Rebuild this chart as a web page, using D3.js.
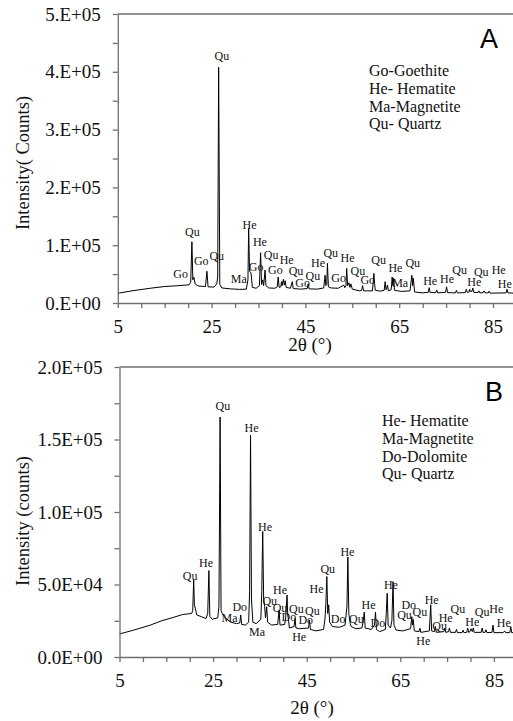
<!DOCTYPE html>
<html>
<head>
<meta charset="utf-8">
<script src="https://cdn.jsdelivr.net/npm/d3@7"></script>
<style>
  html, body { margin: 0; padding: 0; background: #fff; }
  svg { display: block; }
  svg text { font-family: "Liberation Serif", "Times New Roman", Times, serif; }
  svg text.letter { font-family: "Liberation Sans", Arial, sans-serif; }
</style>
</head>
<body>
<svg id="chart" width="513" height="721"></svg>
<script>
// ---------------- DATA ----------------
// Panel A: XRD pattern [2theta (deg), intensity (counts)]
const patternA = [
  [5,16800],[8,21000],[11.9,25500],[15,28500],[18,30000],[20.2,31500],[20.55,36000],[20.8,106000],
  [21.0,40000],[21.2,45000],[21.5,33000],[22.1,29500],[23.7,28500],[24.0,55000],[24.25,28000],
  [25.5,27500],[26.1,33000],[26.3,45000],[26.5,408000],[26.75,32000],[27.2,26000],[29,24500],
  [31,23500],[32.4,24000],[32.75,40000],[32.9,129000],[33.1,55000],[33.4,52000],[33.7,27000],
  [34.5,25500],[35.2,30000],[35.45,87000],[35.65,32000],[35.9,40000],[36.1,30000],[36.4,57000],
  [36.6,30000],[37.2,26000],[38.5,25500],[39.0,28000],[39.2,45000],[39.4,27000],[39.75,28000],
  [39.9,37000],[40.05,30000],[40.3,41000],[40.5,31000],[40.7,38500],[40.9,27000],[41.8,25500],
  [42.2,37000],[42.4,25000],[44,24000],[45.4,25000],[45.6,33000],[45.8,24500],[47.5,24000],
  [48.9,26000],[49.2,48000],[49.35,30000],[49.55,32000],[49.7,68700],[49.9,28000],[50.5,26000],
  [52,25500],[53.2,31000],[53.4,26500],[53.65,30000],[53.8,60000],[54.0,30000],[54.3,35000],
  [54.5,27000],[54.7,33000],[55.0,24000],[56.5,21000],[57.0,22000],[57.2,30000],[57.4,21000],
  [59.3,21000],[59.6,51000],[59.75,34000],[59.9,22000],[61.0,20500],[61.8,22000],[62.0,37000],
  [62.2,23000],[62.5,31000],[62.7,21000],[63.3,23000],[63.5,45000],[63.65,30000],[63.8,43000],
  [64.0,22000],[65.5,20000],[67.3,21000],[67.7,48000],[67.85,30000],[68.0,43000],[68.3,19000],
  [70,17500],[71.2,18500],[71.4,26500],[71.6,18000],[72.8,18000],[73.0,22500],[73.2,17500],
  [74.9,18500],[75.1,28000],[75.3,18000],[77.0,17500],[77.2,22000],[77.4,17500],[79.1,18000],
  [79.3,23700],[79.5,18500],[79.9,19000],[80.0,24000],[80.2,20000],[80.5,20000],[80.7,26000],
  [80.9,18500],[81.8,18000],[82.0,21000],[82.2,17500],[82.9,18000],[83.1,21000],[83.3,17500],
  [84.0,17500],[84.2,20500],[84.4,17000],[87.8,17500],[88.0,23700],[88.2,17500],[89.5,17000]
];
// Panel A peak labels [text, 2theta, intensity]
const labelsA = [
  ["Qu",27.2,427000],["Qu",20.9,122000],["Go",18.4,50000],["Go",22.8,72700],["Qu",26.1,81000],
  ["Ma",30.8,41000],["He",33.1,135000],["He",35.3,105000],["Go",34.5,61800],["Qu",37.7,83000],
  ["He",41.0,74400],["Go",38.6,57000],["Qu",43.0,55400],["Go",44.4,35000],["Qu",46.6,47000],
  ["He",47.7,69700],["Qu",50.4,87000],["He",54.0,77000],["Go",52.1,42700],["Qu",56.2,55000],
  ["Go",58.3,40000],["Qu",60.6,74000],["He",64.2,60000],["Ma",65.2,35000],["Qu",67.9,68700],
  ["He",71.6,38000],["He",75.2,41000],["Qu",77.9,57000],["He",81.0,35800],["Qu",82.5,53000],
  ["He",86.2,57000],["He",87.5,33000]
];
const legendA = ["Go-Goethite","He- Hematite","Ma-Magnetite","Qu- Quartz"];

// Panel B: XRD pattern [2theta (deg), intensity (counts)]
const patternB = [
  [5,15900],[8,18500],[11.6,22000],[14,25000],[16.6,27400],[18.5,29300],[20.4,30000],[20.65,32000],
  [20.85,53000],[21.0,36000],[21.2,33600],[21.5,29000],[22.5,27800],[23.5,26500],[23.85,30000],
  [24.1,59600],[24.3,28000],[24.8,26000],[26.0,27000],[26.25,35000],[26.5,165500],[26.7,32000],
  [27.0,29700],[27.6,27000],[28.8,24000],[30.0,23000],[30.7,23500],[30.9,29000],[31.1,22500],
  [31.9,22000],[32.6,24000],[32.8,45000],[33.0,153000],[33.2,40000],[33.5,24000],[34.2,23000],
  [35.2,26000],[35.4,45000],[35.6,86500],[35.8,40000],[36.0,35000],[36.2,27000],[36.45,34700],
  [36.65,24000],[37.5,22000],[38.8,22500],[39.1,32500],[39.3,22000],[40.3,22500],[40.5,27000],
  [40.8,42800],[40.95,29000],[41.1,26000],[41.3,20000],[42.3,21000],[42.5,26700],[42.7,20000],
  [43.5,19500],[45.4,20000],[45.6,25500],[45.8,19000],[47,18000],[48.6,19000],[48.9,26000],
  [49.1,37000],[49.3,55500],[49.5,30000],[49.7,36000],[49.9,24000],[50.5,21000],[52,20500],
  [53.2,22000],[53.6,35000],[53.8,69000],[54.0,30000],[54.3,23000],[54.5,21000],[55.5,19500],
  [56.8,20000],[57.1,25000],[57.3,31000],[57.5,20000],[58.8,19000],[59.5,22000],[59.7,31000],
  [59.9,19000],[60.6,17500],[61.8,19000],[62.0,30000],[62.2,44000],[62.4,22000],[62.9,20000],
  [63.2,25000],[63.45,52000],[63.65,22000],[64.1,18600],[65.5,18000],[67.2,19500],[67.45,27800],
  [67.6,22000],[67.75,26000],[68.0,18000],[69.0,17500],[69.2,19800],[69.4,17000],[71.2,18000],
  [71.5,36000],[71.7,18000],[72.3,17500],[72.5,21000],[72.7,17000],[74.3,17500],[74.5,20000],
  [74.7,17000],[75.3,17500],[75.5,20000],[75.7,17000],[76.8,17000],[77.0,19000],[77.2,16800],
  [78.2,16800],[78.4,18500],[78.6,16800],[79.2,17000],[79.4,20000],[79.6,17000],[79.9,17500],
  [80.1,19500],[80.4,17500],[80.6,20000],[80.8,17000],[82.3,17000],[82.5,20000],[82.7,16800],
  [83.1,17000],[83.3,18800],[83.5,16800],[84.6,17000],[84.8,22000],[85.0,16800],[87.0,16800],
  [87.3,18000],[87.5,16800],[88.4,16800],[88.6,21000],[88.8,16800],[89.5,16800]
];
const labelsB = [
  ["Qu",20.1,56000],["He",23.5,65000],["Qu",27.1,172900],["He",33.2,158000],["He",36.1,90000],
  ["Ma",28.5,27000],["Do",30.7,34700],["Ma",34.4,17500],["Qu",37.1,38900],["Qu",39.3,33600],
  ["He",39.3,46000],["Do",41.2,27400],["Qu",42.8,33000],["Qu",46.2,32000],["Do",44.8,25500],
  ["He",43.4,13600],["He",47.1,46800],["Qu",49.5,61000],["Do",51.7,26000],["He",53.7,72700],
  ["Qu",55.6,26000],["He",58.2,36000],["Do",60.2,23700],["He",63.0,49700],["Qu",65.9,29000],
  ["Do",66.8,36000],["Qu",69.2,31300],["He",69.9,11000],["He",71.7,39400],["Qu",73.4,21400],
  ["He",74.7,27000],["Qu",77.3,33000],["He",80.4,24400],["Qu",82.5,31300],["He",85.5,33000],
  ["He",87.1,23700]
];
const legendB = ["He- Hematite","Ma-Magnetite","Do-Dolomite","Qu- Quartz"];

// Axes
const xDomain = [5, 90];
const xTickMarks = [5,10,15,20,25,30,35,40,45,50,55,60,65,70,75,80,85];
const xTickLabels = [5,25,45,65,85];
const yTicksA = [0,100000,200000,300000,400000,500000];
const yTickLabelsA = ["0.E+00","1.E+05","2.E+05","3.E+05","4.E+05","5.E+05"];
const yMinorA = [50000,150000,250000,350000,450000];
const yTicksB = [0,50000,100000,150000,200000];
const yTickLabelsB = ["0.0E+00","5.0E+04","1.0E+05","1.5E+05","2.0E+05"];
const yMinorB = [25000,75000,125000,175000];

// ---------------- DRAW ----------------
const svg = d3.select("#chart");
const axisColor = "#6e6e6e";

function panel(cfg) {
  const x = d3.scaleLinear().domain(xDomain).range([cfg.left, cfg.left + 85 * cfg.pxPerDeg]);
  const y = d3.scaleLinear().domain([0, cfg.yMax]).range([cfg.bottom, cfg.top]);
  const g = svg.append("g");

  g.append("line")
    .attr("x1", x(xDomain[0])).attr("x2", x(xDomain[1]))
    .attr("y1", y(cfg.yMax)).attr("y2", y(cfg.yMax))
    .attr("stroke", axisColor).attr("stroke-width", 1.3);
  g.append("line")
    .attr("x1", x(xDomain[1])).attr("x2", x(xDomain[1]))
    .attr("y1", y(cfg.yMax)).attr("y2", y(0))
    .attr("stroke", axisColor).attr("stroke-width", 1.3);

  const line = d3.line().x(d => x(d[0])).y(d => y(d[1]));
  g.append("path").datum(cfg.pattern)
    .attr("d", line).attr("fill", "none")
    .attr("stroke", "#000").attr("stroke-width", 1).attr("stroke-linejoin", "round");

  g.append("g").attr("transform", `translate(${x(xDomain[0])},0)`)
    .call(d3.axisLeft(y).tickValues(cfg.yMinor).tickSize(5).tickSizeOuter(0).tickFormat(""))
    .call(a => a.select(".domain").remove())
    .call(a => a.selectAll("line").attr("stroke", axisColor).attr("stroke-width", 1.3));
  g.append("g").attr("transform", `translate(${x(xDomain[0])},0)`)
    .call(d3.axisLeft(y).tickValues(cfg.yTicks).tickSize(5).tickSizeOuter(0).tickPadding(12)
      .tickFormat((d, i) => cfg.yLabels[i]))
    .call(a => a.select(".domain").attr("stroke", axisColor).attr("stroke-width", 1.3))
    .call(a => a.selectAll("line").attr("stroke", axisColor).attr("stroke-width", 1.3))
    .call(a => a.selectAll("text").attr("font-size", 19).attr("fill", "#111"));

  g.append("g").attr("transform", `translate(0,${y(0)})`)
    .call(d3.axisBottom(x).tickValues(xTickMarks).tickSize(5).tickSizeOuter(0).tickFormat(""))
    .call(a => a.select(".domain").attr("stroke", axisColor).attr("stroke-width", 1.3))
    .call(a => a.selectAll("line").attr("stroke", axisColor).attr("stroke-width", 1.3));
  g.append("g").attr("transform", `translate(0,${y(0)})`)
    .call(d3.axisBottom(x).tickValues(xTickLabels).tickSize(5).tickSizeOuter(0).tickPadding(11.5)
      .tickFormat(d3.format("d")))
    .call(a => a.select(".domain").remove())
    .call(a => a.selectAll("line").remove())
    .call(a => a.selectAll("text").attr("font-size", 19).attr("fill", "#111"));
  g.selectAll("g").attr("font-family", null).attr("font-size", null);

  g.append("text")
    .attr("x", cfg.xTitleX).attr("y", cfg.xTitleY)
    .attr("text-anchor", "middle").attr("font-size", 19).attr("fill", "#111")
    .text("2θ (°)");
  g.append("text")
    .attr("transform", `translate(29,${cfg.yTitleY}) rotate(-90)`)
    .attr("text-anchor", "middle").attr("font-size", 18.5).attr("fill", "#111")
    .text(cfg.yTitle);

  g.append("g").selectAll("text").data(cfg.labels).join("text")
    .attr("x", d => x(d[1])).attr("y", d => y(d[2]))
    .attr("text-anchor", "middle").attr("dominant-baseline", "central")
    .attr("font-size", 12).attr("fill", "#111")
    .text(d => d[0]);

  g.append("g").selectAll("text").data(cfg.legend).join("text")
    .attr("x", cfg.legendX).attr("y", (d, i) => cfg.legendY + i * 17.8)
    .attr("font-size", 16).attr("fill", "#111")
    .text(d => d);

  g.append("text").attr("class", "letter")
    .attr("x", cfg.letterX).attr("y", cfg.letterY)
    .attr("text-anchor", "middle")
    .attr("font-size", 27).attr("fill", "#000")
    .text(cfg.letter);
}

panel({
  pattern: patternA, labels: labelsA, legend: legendA,
  left: 117.8, pxPerDeg: 4.69, top: 14, bottom: 303, yMax: 500000,
  yTicks: yTicksA, yLabels: yTickLabelsA, yMinor: yMinorA,
  yTitle: "Intensity( Counts)", yTitleY: 163, xTitleX: 310, xTitleY: 351,
  legendX: 369, legendY: 76, letter: "A", letterX: 489, letterY: 48
});

panel({
  pattern: patternB, labels: labelsB, legend: legendB,
  left: 119.5, pxPerDeg: 4.68, top: 367, bottom: 657, yMax: 200000,
  yTicks: yTicksB, yLabels: yTickLabelsB, yMinor: yMinorB,
  yTitle: "Intensity (counts)", yTitleY: 521, xTitleX: 312, xTitleY: 714,
  legendX: 382, legendY: 426, letter: "B", letterX: 494, letterY: 401
});
</script>
</body>
</html>
